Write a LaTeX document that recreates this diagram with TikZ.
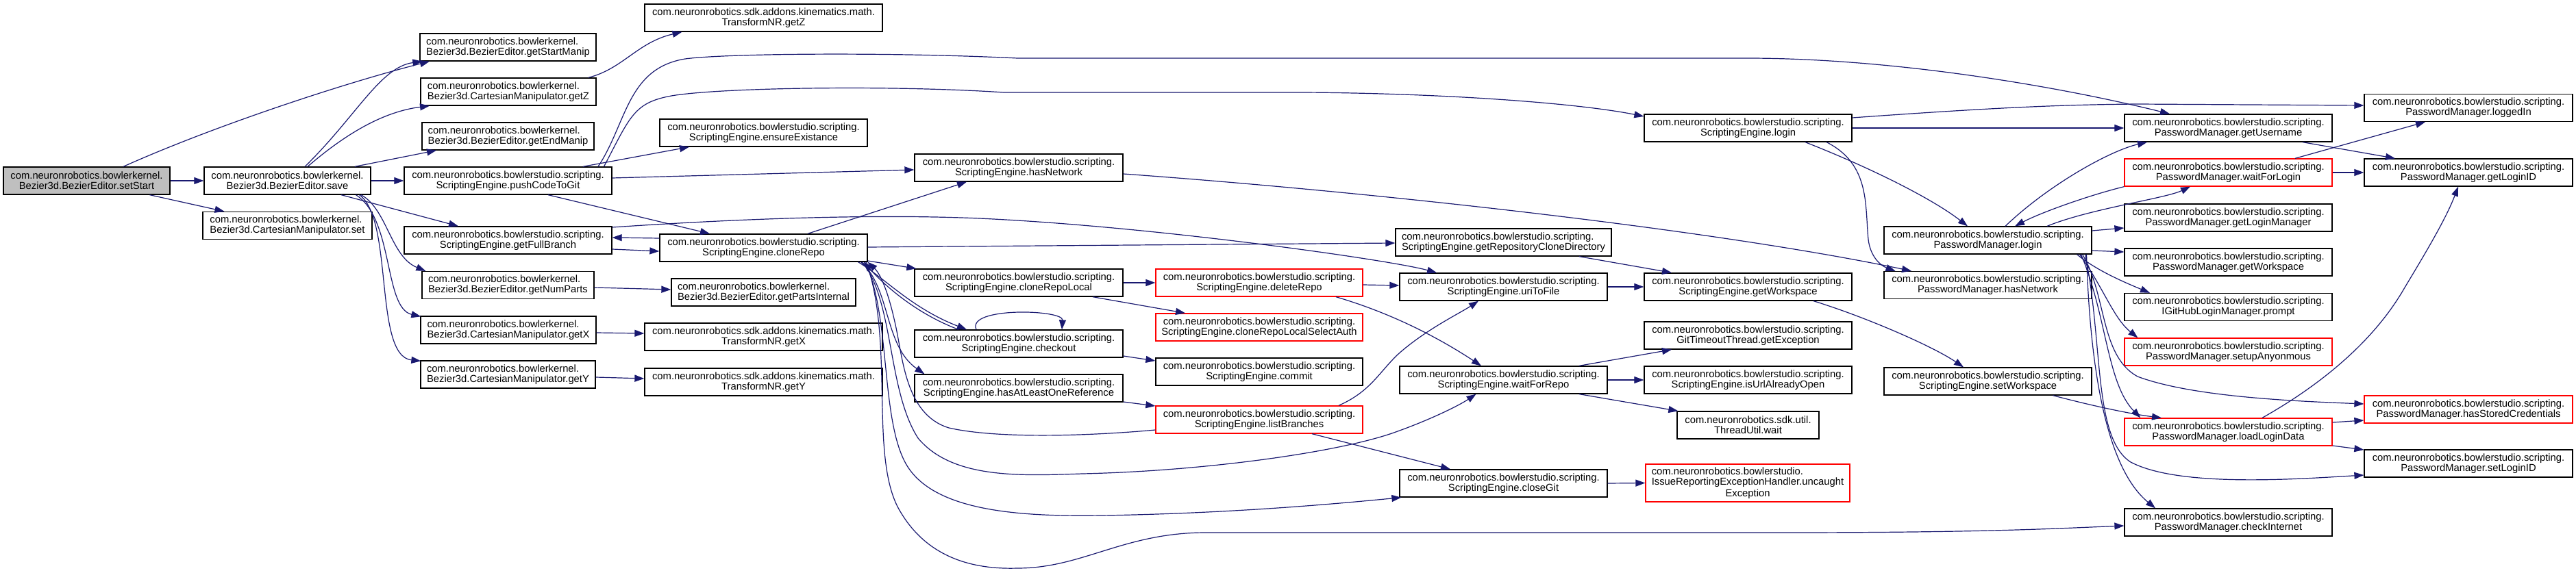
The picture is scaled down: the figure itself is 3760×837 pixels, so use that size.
\documentclass[tikz,border=0pt]{standalone}
\usepackage{fontspec}
\setmainfont{Liberation Sans}
\usetikzlibrary{arrows.meta,calc}
\definecolor{edgeblue}{HTML}{191970}
\definecolor{nodegray}{HTML}{BFBFBF}
\definecolor{boxred}{HTML}{FF0000}
\begin{document}
\begin{tikzpicture}[x=1pt,y=-1pt,
  fn/.style={draw=black, line width=1.3pt, fill=white, minimum height=40pt, inner sep=0pt, align=center, font=\fontsize{14.8}{15}\selectfont},
  fnred/.style={fn, draw=boxred},
  call/.style={draw=edgeblue, line width=1.2pt, -{Triangle[length=14pt,width=10pt]}}]
\fill[white] (0,0) rectangle (3760,837);
\useasboundingbox (0,0) rectangle (3760,837);
% column 1
\node[fn, minimum width=243pt, fill=nodegray] (setStart) at (126.5,264) {com.neuronrobotics.bowlerkernel.\\Bezier3d.BezierEditor.setStart};
% column 2
\node[fn, minimum width=243pt] (save) at (419.5,264) {com.neuronrobotics.bowlerkernel.\\Bezier3d.BezierEditor.save};
\node[fn, minimum width=247pt, align=left] (cmset) at (419.5,329.5) {com.neuronrobotics.bowlerkernel.\\Bezier3d.CartesianManipulator.set};
% column 3
\node[fn, minimum width=257pt, align=left] (getStartManip) at (741.5,69) {com.neuronrobotics.bowlerkernel.\\Bezier3d.BezierEditor.getStartManip};
\node[fn, minimum width=256pt, align=left] (cmgetZ) at (742,134) {com.neuronrobotics.bowlerkernel.\\Bezier3d.CartesianManipulator.getZ};
\node[fn, minimum width=251pt, align=left] (getEndManip) at (741.5,199) {com.neuronrobotics.bowlerkernel.\\Bezier3d.BezierEditor.getEndManip};
\node[fn, minimum width=303pt] (pushCodeToGit) at (741.5,264) {com.neuronrobotics.bowlerstudio.scripting.\\ScriptingEngine.pushCodeToGit};
\node[fn, minimum width=303pt] (getFullBranch) at (741.5,351) {com.neuronrobotics.bowlerstudio.scripting.\\ScriptingEngine.getFullBranch};
\node[fn, minimum width=251pt, align=left] (getNumParts) at (741.5,416.5) {com.neuronrobotics.bowlerkernel.\\Bezier3d.BezierEditor.getNumParts};
\node[fn, minimum width=256pt, align=left] (cmgetX) at (742,482) {com.neuronrobotics.bowlerkernel.\\Bezier3d.CartesianManipulator.getX};
\node[fn, minimum width=255pt, align=left] (cmgetY) at (741.5,547) {com.neuronrobotics.bowlerkernel.\\Bezier3d.CartesianManipulator.getY};
% column 4
\node[fn, minimum width=347pt] (trGetZ) at (1114.5,26) {com.neuronrobotics.sdk.addons.kinematics.math.\\TransformNR.getZ};
\node[fn, minimum width=303pt] (ensureExistance) at (1114.5,194) {com.neuronrobotics.bowlerstudio.scripting.\\ScriptingEngine.ensureExistance};
\node[fn, minimum width=303pt] (cloneRepo) at (1114.5,362) {com.neuronrobotics.bowlerstudio.scripting.\\ScriptingEngine.cloneRepo};
\node[fn, minimum width=269pt, align=left] (getPartsInternal) at (1114.5,427) {com.neuronrobotics.bowlerkernel.\\Bezier3d.BezierEditor.getPartsInternal};
\node[fn, minimum width=347pt] (trGetX) at (1114.5,492) {com.neuronrobotics.sdk.addons.kinematics.math.\\TransformNR.getX};
\node[fn, minimum width=347pt] (trGetY) at (1114.5,558) {com.neuronrobotics.sdk.addons.kinematics.math.\\TransformNR.getY};
% column 5
\node[fn, minimum width=304pt] (seHasNetwork) at (1487,245) {com.neuronrobotics.bowlerstudio.scripting.\\ScriptingEngine.hasNetwork};
\node[fn, minimum width=304pt] (cloneRepoLocal) at (1487,413) {com.neuronrobotics.bowlerstudio.scripting.\\ScriptingEngine.cloneRepoLocal};
\node[fn, minimum width=304pt] (checkout) at (1487,502) {com.neuronrobotics.bowlerstudio.scripting.\\ScriptingEngine.checkout};
\node[fn, minimum width=304pt] (hasAtLeast) at (1487,567) {com.neuronrobotics.bowlerstudio.scripting.\\ScriptingEngine.hasAtLeastOneReference};
% column 6
\node[fnred, minimum width=302pt] (deleteRepo) at (1838,413) {com.neuronrobotics.bowlerstudio.scripting.\\ScriptingEngine.deleteRepo};
\node[fnred, minimum width=302pt] (cloneSelAuth) at (1838,478) {com.neuronrobotics.bowlerstudio.scripting.\\ScriptingEngine.cloneRepoLocalSelectAuth};
\node[fn, minimum width=302pt] (commit) at (1838,543) {com.neuronrobotics.bowlerstudio.scripting.\\ScriptingEngine.commit};
\node[fnred, minimum width=302pt] (listBranches) at (1838,613) {com.neuronrobotics.bowlerstudio.scripting.\\ScriptingEngine.listBranches};
% column 7
\node[fn, minimum width=315pt, align=left] (getRepoCloneDir) at (2194.5,354) {com.neuronrobotics.bowlerstudio.scripting.\\ScriptingEngine.getRepositoryCloneDirectory};
\node[fn, minimum width=303pt] (uriToFile) at (2194.5,419) {com.neuronrobotics.bowlerstudio.scripting.\\ScriptingEngine.uriToFile};
\node[fn, minimum width=303pt] (waitForRepo) at (2194.5,555) {com.neuronrobotics.bowlerstudio.scripting.\\ScriptingEngine.waitForRepo};
\node[fn, minimum width=303pt] (closeGit) at (2194.5,706) {com.neuronrobotics.bowlerstudio.scripting.\\ScriptingEngine.closeGit};
% column 8
\node[fn, minimum width=303pt] (seLogin) at (2551.5,187) {com.neuronrobotics.bowlerstudio.scripting.\\ScriptingEngine.login};
\node[fn, minimum width=303pt] (seGetWorkspace) at (2551.5,419) {com.neuronrobotics.bowlerstudio.scripting.\\ScriptingEngine.getWorkspace};
\node[fn, minimum width=303pt] (getException) at (2551.5,490) {com.neuronrobotics.bowlerstudio.scripting.\\GitTimeoutThread.getException};
\node[fn, minimum width=303pt] (isUrlOpen) at (2551.5,555) {com.neuronrobotics.bowlerstudio.scripting.\\ScriptingEngine.isUrlAlreadyOpen};
\node[fn, minimum width=207pt] (threadWait) at (2551.5,621) {com.neuronrobotics.sdk.util.\\ThreadUtil.wait};
\node[fnred, minimum width=298pt, minimum height=55pt] (uncaught) at (2551,705.5) {\begin{tabular}{@{}l@{}}com.neuronrobotics.bowlerstudio.\\IssueReportingExceptionHandler.uncaught\end{tabular}\\Exception};
% column 9
\node[fn, minimum width=303pt] (pmLogin) at (2901.5,351) {com.neuronrobotics.bowlerstudio.scripting.\\PasswordManager.login};
\node[fn, minimum width=303pt] (pmHasNetwork) at (2901.5,416.5) {com.neuronrobotics.bowlerstudio.scripting.\\PasswordManager.hasNetwork};
\node[fn, minimum width=303pt] (setWorkspace) at (2901.5,557) {com.neuronrobotics.bowlerstudio.scripting.\\ScriptingEngine.setWorkspace};
% column 10
\node[fn, minimum width=303pt] (getUsername) at (3252.5,187) {com.neuronrobotics.bowlerstudio.scripting.\\PasswordManager.getUsername};
\node[fnred, minimum width=303pt] (waitForLogin) at (3252.5,252) {com.neuronrobotics.bowlerstudio.scripting.\\PasswordManager.waitForLogin};
\node[fn, minimum width=303pt] (getLoginManager) at (3252.5,318) {com.neuronrobotics.bowlerstudio.scripting.\\PasswordManager.getLoginManager};
\node[fn, minimum width=303pt] (pmGetWorkspace) at (3252.5,383) {com.neuronrobotics.bowlerstudio.scripting.\\PasswordManager.getWorkspace};
\node[fn, minimum width=303pt] (prompt) at (3252.5,448.5) {com.neuronrobotics.bowlerstudio.scripting.\\IGitHubLoginManager.prompt};
\node[fnred, minimum width=303pt] (setupAnon) at (3252.5,514) {com.neuronrobotics.bowlerstudio.scripting.\\PasswordManager.setupAnyonmous};
\node[fnred, minimum width=303pt] (loadLoginData) at (3252.5,631) {com.neuronrobotics.bowlerstudio.scripting.\\PasswordManager.loadLoginData};
\node[fn, minimum width=303pt] (checkInternet) at (3252.5,763) {com.neuronrobotics.bowlerstudio.scripting.\\PasswordManager.checkInternet};
% column 11
\node[fn, minimum width=304pt] (loggedIn) at (3603,157.5) {com.neuronrobotics.bowlerstudio.scripting.\\PasswordManager.loggedIn};
\node[fn, minimum width=304pt] (getLoginID) at (3603,252) {com.neuronrobotics.bowlerstudio.scripting.\\PasswordManager.getLoginID};
\node[fnred, minimum width=304pt] (hasStoredCred) at (3603,598) {com.neuronrobotics.bowlerstudio.scripting.\\PasswordManager.hasStoredCredentials};
\node[fn, minimum width=304pt] (setLoginID) at (3603,677) {com.neuronrobotics.bowlerstudio.scripting.\\PasswordManager.setLoginID};

% ---------------- edges ----------------
\draw[call] (setStart.east) -- (save.west);
\draw[call] ($(setStart.north)+(53.5,0)$) .. controls (310,185) and (500,122) .. ($(getStartManip.south)+(-114.5,0)$);
\draw[call] ($(setStart.south)+(92,0)$) -- ($(cmset.north)+(-92,0)$);
\draw[call] ($(save.north)+(25.5,0)$) .. controls (520,170) and (555,98) .. ($(getStartManip.south west)+(4,0)$);
\draw[call] ($(save.north)+(29.5,0)$) .. controls (505,195) and (560,163) .. ($(cmgetZ.south)+(-115,0)$);
\draw[call] ($(save.north)+(98.5,0)$) -- ($(getEndManip.south)+(-104.5,0)$);
\draw[call] (save.east) -- (pushCodeToGit.west);
\draw[call] ($(save.south)+(78.5,0)$) -- ($(getFullBranch.north)+(-72.5,0)$);
\draw[call] ($(save.south)+(107.5,0)$) .. controls (565,305) and (570,375) .. ($(getNumParts.north west)+(6,0)$);
\draw[call] ($(save.south)+(100,0)$) .. controls (575,320) and (560,450) .. ($(cmgetX.north west)+(1,1)$);
\draw[call] ($(save.south)+(105,0)$) .. controls (575,320) and (545,520) .. ($(cmgetY.north west)+(1,1)$);
\draw[call] ($(cmgetZ.north)+(117,0)$) .. controls (910,100) and (930,62) .. ($(trGetZ.south)+(-119,0)$);
\draw[call] ($(pushCodeToGit.north)+(131.5,0)$) .. controls (915,180) and (915,100) .. (1000,86) .. controls (1060,78) and (1300,76) .. (1485,85) -- (2550,85) .. controls (2760,85) and (3000,125) .. ($(getUsername.north)+(-85.5,0)$);
\draw[call] ($(pushCodeToGit.north)+(140,0)$) .. controls (920,170) and (925,150) .. (980,140) .. controls (1050,128) and (1300,124) .. (1465,135) -- (1900,135) .. controls (2100,136) and (2300,150) .. ($(seLogin.west)+(0,-17)$);
\draw[call] ($(pushCodeToGit.north)+(109.5,0)$) -- ($(ensureExistance.south)+(-108.5,0)$);
\draw[call] ($(pushCodeToGit.east)+(0,-4)$) -- ($(seHasNetwork.west)+(0,3)$);
\draw[call] ($(pushCodeToGit.south)+(58.5,0)$) -- ($(cloneRepo.north)+(-78.5,0)$);
\draw[call] ($(getFullBranch.east)+(0,13)$) -- ($(cloneRepo.west)+(0,5)$);
\draw[call] ($(cloneRepo.west)+(0,-14)$) -- ($(getFullBranch.east)+(0,-4)$);
\draw[call] ($(getFullBranch.east)+(0,-19)$) .. controls (1100,318) and (1300,312) .. (1450,320) .. controls (1700,333) and (2030,380) .. ($(uriToFile.north)+(-97.5,0)$);
\draw[call] ($(cloneRepo.north)+(64.5,0)$) -- ($(seHasNetwork.south)+(-76,0)$);
\draw[call] ($(cloneRepo.east)+(0,-1)$) -- ($(getRepoCloneDir.west)+(0,1)$);
\draw[call] ($(cloneRepo.east)+(0,19)$) -- ($(cloneRepoLocal.north west)+(3,0)$);
\draw[call] ($(cloneRepo.south)+(138,0)$) .. controls (1290,405) and (1330,450) .. ($(checkout.north)+(-76,0)$);
\draw[call] ($(checkout.north)+(-88,0)$) .. controls (1330,455) and (1285,410) .. ($(cloneRepo.south)+(146,0)$);
\draw[call] ($(cloneRepo.south)+(142,0)$) .. controls (1300,420) and (1290,505) .. ($(hasAtLeast.north west)+(15,0)$);
\draw[call] ($(checkout.north)+(-62,0)$) .. controls (1410,448) and (1552,452) .. ($(checkout.north)+(63,0)$);
\draw[call] ($(cloneRepo.south)+(144,0)$) .. controls (1305,440) and (1295,570) .. (1340,640) .. controls (1390,700) and (1490,695) .. (1580,692) .. controls (1760,688) and (1960,660) .. (2040,630) .. controls (2090,612) and (2130,592) .. ($(waitForRepo.south)+(-40,0)$);
\draw[call] ($(cloneRepo.south)+(148,0)$) .. controls (1300,460) and (1285,610) .. (1322,677) .. controls (1360,745) and (1480,755) .. (1607,753) .. controls (1800,750) and (1960,735) .. ($(closeGit.south west)+(3,0)$);
\draw[call] ($(cloneRepo.south)+(150,0)$) .. controls (1305,500) and (1270,660) .. (1310,740) .. controls (1350,815) and (1420,832) .. (1485,830) .. controls (1580,830) and (1640,778) .. (1760,778) -- (2600,778) .. controls (2900,778) and (3000,772) .. ($(checkInternet.west)+(0,5)$);
\draw[call] ($(listBranches.west)+(0,15)$) .. controls (1600,636) and (1460,642) .. (1385,625) .. controls (1320,605) and (1318,520) .. (1306,470) .. controls (1296,425) and (1285,400) .. ($(cloneRepo.south)+(152,0)$);
\draw[call] (cloneRepoLocal.east) -- (deleteRepo.west);
\draw[call] ($(cloneRepoLocal.south)+(108,0)$) -- ($(cloneSelAuth.north)+(-108,0)$);
\draw[call] ($(checkout.east)+(0,18)$) -- ($(commit.west)+(0,-16)$);
\draw[call] ($(hasAtLeast.east)+(0,20)$) -- ($(listBranches.west)+(0,-20)$);
\draw[call] ($(deleteRepo.east)+(0,3)$) -- ($(uriToFile.west)+(0,-2)$);
\draw[call] ($(deleteRepo.south)+(112,0)$) .. controls (2040,460) and (2110,500) .. ($(waitForRepo.north)+(-32.5,0)$);
\draw[call] ($(listBranches.north)+(116,0)$) .. controls (2000,572) and (2012,545) .. (2040,518) .. controls (2080,482) and (2130,458) .. ($(uriToFile.south)+(-36.5,0)$);
\draw[call] ($(listBranches.south)+(77,0)$) -- ($(closeGit.north)+(-77.5,0)$);
\draw[call] ($(getRepoCloneDir.south)+(110.5,0)$) -- ($(seGetWorkspace.north)+(-111.5,0)$);
\draw[call] (uriToFile.east) -- (seGetWorkspace.west);
\draw[call] ($(waitForRepo.north)+(110.5,0)$) -- ($(getException.south)+(-111.5,0)$);
\draw[call] (waitForRepo.east) -- (isUrlOpen.west);
\draw[call] ($(waitForRepo.south)+(110.5,0)$) -- ($(threadWait.north west)+(2,0)$);
\draw[call] (closeGit.east) -- (uncaught.west);
\draw[call] ($(seGetWorkspace.south)+(95.5,0)$) .. controls (2720,462) and (2820,505) .. ($(setWorkspace.north)+(-35.5,0)$);
\draw[call] ($(setWorkspace.south)+(95,0)$) .. controls (3070,597) and (3120,606) .. ($(loadLoginData.north)+(-97.5,0)$);
\draw[call] (seLogin.east) -- (getUsername.west);
\draw[call] ($(seLogin.east)+(0,-15)$) .. controls (2900,158) and (3000,153) .. (3120,152) -- ($(loggedIn.west)+(0,-3.5)$);
\draw[call] ($(seLogin.south)+(83.5,0)$) .. controls (2730,245) and (2820,290) .. ($(pmLogin.north)+(-29.5,0)$);
\draw[call] ($(seLogin.south)+(114.5,0)$) .. controls (2730,240) and (2722,300) .. (2727,350) .. controls (2730,375) and (2745,388) .. ($(pmHasNetwork.north)+(-135,0)$);
\draw[call] ($(seHasNetwork.east)+(0,9)$) .. controls (2000,280) and (2500,335) .. ($(pmHasNetwork.north)+(-111.5,0)$);
\draw[call] ($(pmLogin.north)+(25.5,0)$) .. controls (2990,270) and (3080,220) .. ($(getUsername.south)+(-118.5,0)$);
\draw[call] ($(pmLogin.north)+(86.5,0)$) .. controls (3050,305) and (3160,290) .. ($(waitForLogin.south)+(-55.5,0)$);
\draw[call] (waitForLogin.south west) .. controls (3050,285) and (2980,310) .. ($(pmLogin.north)+(39.5,0)$);
\draw[call] ($(pmLogin.east)+(0,-14)$) -- ($(getLoginManager.west)+(0,15)$);
\draw[call] ($(pmLogin.east)+(0,15)$) -- ($(pmGetWorkspace.west)+(0,-15)$);
\draw[call] ($(pmLogin.south)+(130,0)$) .. controls (3060,395) and (3100,412) .. ($(prompt.north)+(-114.5,0)$);
\draw[call] ($(pmLogin.south)+(134,0)$) .. controls (3070,420) and (3085,465) .. ($(setupAnon.north west)+(20,0)$);
\draw[call] ($(pmLogin.south)+(138,0)$) .. controls (3075,430) and (3065,520) .. (3120,550) .. controls (3200,580) and (3350,586) .. ($(hasStoredCred.west)+(0,-8)$);
\draw[call] ($(pmLogin.south)+(136,0)$) .. controls (3075,460) and (3075,560) .. ($(loadLoginData.north west)+(24,0)$);
\draw[call] ($(pmLogin.south)+(142,0)$) .. controls (3070,500) and (3055,640) .. (3110,675) .. controls (3180,712) and (3350,700) .. ($(setLoginID.west)+(0,17)$);
\draw[call] ($(pmLogin.south)+(144,0)$) .. controls (3050,520) and (3070,680) .. ($(checkInternet.north)+(-106.5,0)$);
\draw[call] ($(waitForLogin.north)+(97.5,0)$) -- ($(loggedIn.south)+(-63,0)$);
\draw[call] (waitForLogin.east) -- (getLoginID.west);
\draw[call] ($(getUsername.south)+(108.5,0)$) -- ($(getLoginID.north)+(-107,0)$);
\draw[call] ($(loadLoginData.north)+(49.5,0)$) .. controls (3400,555) and (3470,490) .. (3510,420) .. controls (3540,370) and (3570,320) .. ($(getLoginID.south)+(-15,0)$);
\draw[call] ($(loadLoginData.east)+(0,-14)$) -- ($(hasStoredCred.west)+(0,16)$);
\draw[call] ($(loadLoginData.east)+(0,20)$) -- ($(setLoginID.west)+(0,-20)$);
\draw[call] ($(getNumParts.east)+(0,3.5)$) -- ($(getPartsInternal.west)+(0,-4)$);
\draw[call] ($(cmgetX.east)+(0,4)$) -- ($(trGetX.west)+(0,-5)$);
\draw[call] ($(cmgetY.east)+(0,4)$) -- ($(trGetY.west)+(0,-5)$);
\end{tikzpicture}
\end{document}
